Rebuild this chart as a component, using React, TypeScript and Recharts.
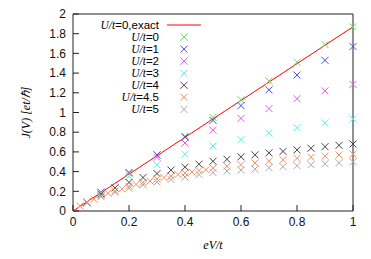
import React from 'react';
import { ScatterChart, Scatter, XAxis, YAxis, Label } from 'recharts';

// bias values (eV/t)
const vTenths = [0.1, 0.2, 0.3, 0.4, 0.5, 0.6, 0.7, 0.8, 0.9, 1.0];
const vHalves = [0.05, 0.1, 0.15, 0.2, 0.25, 0.3, 0.35, 0.4, 0.45, 0.5, 0.55, 0.6, 0.65, 0.7, 0.75, 0.8, 0.85, 0.9, 0.95, 1.0];
const vOrange = [0.025, 0.05, 0.075, 0.1, 0.125, 0.15, 0.175, 0.2, 0.225, 0.25, 0.275, 0.3, 0.325, 0.35, 0.375, 0.4, 0.425, 0.45, 0.475, 0.5, 0.55, 0.6, 0.65, 0.7, 0.75, 0.8, 0.85, 0.9, 0.95, 1.0];

// current J(V) [et/hbar]
const exactV = [0, 1];
const exactJ = [0, 1.87];
const jU0 = [0.19, 0.38, 0.57, 0.76, 0.95, 1.13, 1.32, 1.51, 1.69, 1.87];
const jU1 = [0.19, 0.39, 0.57, 0.75, 0.92, 1.07, 1.23, 1.38, 1.53, 1.67];
const jU2 = [0.19, 0.39, 0.545, 0.69, 0.82, 0.94, 1.04, 1.14, 1.22, 1.285];
const jU3 = [0.18, 0.35, 0.47, 0.575, 0.66, 0.725, 0.79, 0.845, 0.895, 0.935];
const jU4 = [0.09, 0.17, 0.235, 0.29, 0.34, 0.38, 0.415, 0.445, 0.475, 0.505, 0.525, 0.55, 0.57, 0.59, 0.605, 0.62, 0.637, 0.653, 0.667, 0.68];
const jU45 = [0.05, 0.09, 0.12, 0.155, 0.18, 0.205, 0.225, 0.25, 0.27, 0.29, 0.305, 0.325, 0.34, 0.355, 0.37, 0.385, 0.395, 0.41, 0.42, 0.435, 0.455, 0.47, 0.488, 0.505, 0.52, 0.535, 0.546, 0.557, 0.568, 0.578];
const jU5 = [0.08, 0.145, 0.19, 0.23, 0.265, 0.295, 0.32, 0.345, 0.37, 0.39, 0.405, 0.415, 0.425, 0.44, 0.45, 0.46, 0.47, 0.48, 0.49, 0.5];

const xTicks = [0, 0.2, 0.4, 0.6, 0.8, 1];
const yTicks = [0, 0.2, 0.4, 0.6, 0.8, 1, 1.2, 1.4, 1.6, 1.8, 2];

const zip = (xs: number[], ys: number[]) => xs.map((x, i) => ({ x, y: ys[i] }));

const series = [
  { label: '0', color: '#5ee65e', data: zip(vTenths, jU0) },
  { label: '1', color: '#4a4af0', data: zip(vTenths, jU1) },
  { label: '2', color: '#ee55ee', data: zip(vTenths, jU2) },
  { label: '3', color: '#55eeee', data: zip(vTenths, jU3) },
  { label: '4', color: '#444444', data: zip(vHalves, jU4) },
  { label: '4.5', color: '#ff8c5a', data: zip(vOrange, jU45) },
  { label: '5', color: '#aaaaaa', data: zip(vHalves, jU5) },
];

const SANS = '"Liberation Sans", Arial, sans-serif';
const SERIF = '"Liberation Serif", "Times New Roman", serif';

const cross = (color: string) => (props: any) => {
  const { cx, cy } = props;
  const r = 3.5;
  return (
    <g stroke={color} strokeWidth={1}>
      <line x1={cx - r} y1={cy - r} x2={cx + r} y2={cy + r} />
      <line x1={cx - r} y1={cy + r} x2={cx + r} y2={cy - r} />
    </g>
  );
};

// gnuplot-style key, drawn over the plot area
const LegendBox = () => {
  const rowY = (i: number) => 25 + i * 12.05;
  return (
    <svg
      width={220}
      height={120}
      style={{ position: 'absolute', left: 0, top: 0, overflow: 'visible', pointerEvents: 'none' }}
    >
      <text x={159} y={rowY(0) + 4} textAnchor="end" fontSize={11.5}>
        <tspan fontFamily={SERIF} fontStyle="italic">U/t</tspan>
        <tspan fontFamily={SANS}>=0,exact</tspan>
      </text>
      <line x1={167} y1={rowY(0)} x2={201} y2={rowY(0)} stroke="#ff0000" strokeWidth={1} />
      {series.map((s, i) => {
        const y = rowY(i + 1);
        return (
          <g key={s.label}>
            <text x={159} y={y + 4} textAnchor="end" fontSize={11.5}>
              <tspan fontFamily={SERIF} fontStyle="italic">U/t</tspan>
              <tspan fontFamily={SANS}>={s.label}</tspan>
            </text>
            {cross(s.color)({ cx: 184, cy: y })}
          </g>
        );
      })}
    </svg>
  );
};

const tickStyle = { fontSize: 12, fontFamily: SANS, fill: '#111' };

export default function App() {
  return (
    <div style={{ position: 'absolute', left: 0, top: 0, width: 371, height: 259, background: '#fff' }}>
      <ScatterChart width={371} height={259} margin={{ top: 13, right: 17, left: 13, bottom: 18 }}>
        <XAxis
          dataKey="x"
          type="number"
          domain={[0, 1]}
          ticks={xTicks}
          interval={0}
          height={30}
          tickSize={-6}
          tickMargin={12}
          tick={tickStyle}
          axisLine={{ stroke: '#222' }}
          tickLine={{ stroke: '#222' }}
        >
          <Label
            content={(p: any) => (
              <text
                x={p.viewBox.x + p.viewBox.width / 2}
                y={249}
                textAnchor="middle"
                fontFamily={SERIF}
                fontStyle="italic"
                fontSize={12}
              >
                eV/t
              </text>
            )}
          />
        </XAxis>
        <XAxis
          xAxisId="top"
          orientation="top"
          dataKey="x"
          type="number"
          domain={[0, 1]}
          ticks={xTicks}
          interval={0}
          height={1}
          tickSize={-6}
          tick={false}
          axisLine={{ stroke: '#222' }}
          tickLine={{ stroke: '#222' }}
        />
        <YAxis
          dataKey="y"
          type="number"
          domain={[0, 2]}
          ticks={yTicks}
          interval={0}
          width={60}
          tickSize={-6}
          tickMargin={13}
          tick={tickStyle}
          axisLine={{ stroke: '#222' }}
          tickLine={{ stroke: '#222' }}
        >
          <Label
            content={(p: any) => {
              const cx = p.viewBox.x + 17;
              const cy = p.viewBox.y + p.viewBox.height / 2;
              return (
                <text
                  x={cx}
                  y={cy}
                  transform={`rotate(-90 ${cx} ${cy})`}
                  textAnchor="middle"
                  fontFamily={SERIF}
                  fontStyle="italic"
                  fontSize={12}
                >
                  J(V) [et/ℏ]
                </text>
              );
            }}
          />
        </YAxis>
        <YAxis
          yAxisId="right"
          orientation="right"
          dataKey="y"
          type="number"
          domain={[0, 2]}
          ticks={yTicks}
          interval={0}
          width={1}
          tickSize={-6}
          tick={false}
          axisLine={{ stroke: '#222' }}
          tickLine={{ stroke: '#222' }}
        />
        <Scatter
          name="U/t=0,exact"
          data={zip(exactV, exactJ)}
          line={{ stroke: '#ff0000', strokeWidth: 1 }}
          shape={() => <g />}
          isAnimationActive={false}
        />
        {series.map((s) => (
          <Scatter
            key={s.label}
            name={`U/t=${s.label}`}
            data={s.data}
            shape={cross(s.color)}
            isAnimationActive={false}
          />
        ))}
      </ScatterChart>
      <LegendBox />
    </div>
  );
}
